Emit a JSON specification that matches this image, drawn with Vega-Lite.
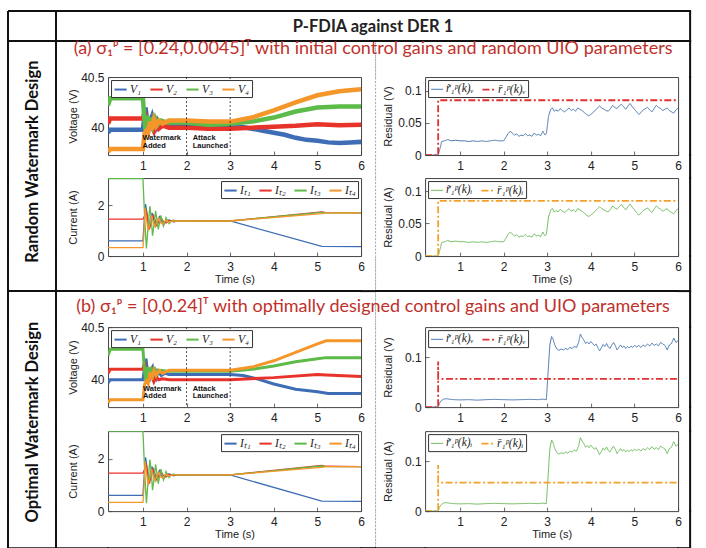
{
"$schema": "https://vega.github.io/schema/vega-lite/v6.json",
"padding": {"left": 7, "top": 4, "right": 0, "bottom": 0},
"config": {
  "concat": {"spacing": 0.01},
  "view": {"stroke": "#444", "strokeWidth": 1},
  "font": "Liberation Sans",
  "axis": {"labelFont": "Liberation Sans", "labelFontSize": 12, "labelColor": "#222", "titleFont": "Liberation Sans", "titleFontSize": 11, "titleFontWeight": "normal", "titleColor": "#222", "domain": false, "grid": false, "tickSize": -4, "tickColor": "#444", "tickWidth": 0.8, "labelFlush": false, "labelOverlap": false},
  "axisX": {"labelPadding": 9, "minExtent": 15, "maxExtent": 15, "titlePadding": 2},
  "axisY": {"labelPadding": 8, "minExtent": 28, "maxExtent": 28, "titlePadding": 2},
  "legend": {"direction": "horizontal", "title": null, "symbolType": "stroke", "symbolSize": 150, "symbolStrokeWidth": 2, "labelFont": "Liberation Serif", "labelFontStyle": "italic", "labelFontSize": 11.5, "labelOffset": 2, "columnPadding": 4, "padding": 2, "strokeColor": "#333", "fillColor": "white", "offset": 3, "labelColor": "#222"}
},
"datasets": {
  "vA": [
    {"s":"V₁","t":0.2,"v":39.95},{"s":"V₁","t":0.25,"v":39.98},{"s":"V₁","t":1.0,"v":39.98},{"s":"V₁","t":1.03,"v":40.1},{"s":"V₁","t":1.06,"v":40.2},{"s":"V₁","t":1.1,"v":40.05},{"s":"V₁","t":1.13,"v":39.97},{"s":"V₁","t":1.17,"v":40.06},{"s":"V₁","t":1.21,"v":40.11},{"s":"V₁","t":1.25,"v":40.04},{"s":"V₁","t":1.29,"v":40.0},{"s":"V₁","t":1.34,"v":40.07},{"s":"V₁","t":1.4,"v":40.03},{"s":"V₁","t":1.47,"v":40.05},{"s":"V₁","t":1.55,"v":40.03},{"s":"V₁","t":2.0,"v":40.03},{"s":"V₁","t":2.5,"v":40.02},{"s":"V₁","t":3.0,"v":40.02},{"s":"V₁","t":3.25,"v":40.01},{"s":"V₁","t":3.5,"v":39.99},{"s":"V₁","t":3.75,"v":39.97},{"s":"V₁","t":4.0,"v":39.95},{"s":"V₁","t":4.25,"v":39.93},{"s":"V₁","t":4.5,"v":39.9},{"s":"V₁","t":4.75,"v":39.88},{"s":"V₁","t":5.0,"v":39.87},{"s":"V₁","t":5.25,"v":39.855},{"s":"V₁","t":5.5,"v":39.85},{"s":"V₁","t":5.75,"v":39.855},{"s":"V₁","t":6.0,"v":39.86},
    {"s":"V₂","t":0.2,"v":40.04},{"s":"V₂","t":0.25,"v":40.09},{"s":"V₂","t":1.0,"v":40.09},{"s":"V₂","t":1.04,"v":40.16},{"s":"V₂","t":1.08,"v":40.03},{"s":"V₂","t":1.12,"v":39.98},{"s":"V₂","t":1.16,"v":40.08},{"s":"V₂","t":1.2,"v":40.02},{"s":"V₂","t":1.25,"v":39.97},{"s":"V₂","t":1.3,"v":40.04},{"s":"V₂","t":1.36,"v":39.99},{"s":"V₂","t":1.45,"v":40.02},{"s":"V₂","t":1.6,"v":40.0},{"s":"V₂","t":2.0,"v":40.0},{"s":"V₂","t":2.5,"v":39.99},{"s":"V₂","t":3.0,"v":39.99},{"s":"V₂","t":3.5,"v":40.0},{"s":"V₂","t":4.0,"v":40.01},{"s":"V₂","t":4.5,"v":40.02},{"s":"V₂","t":5.0,"v":40.035},{"s":"V₂","t":5.5,"v":40.025},{"s":"V₂","t":6.0,"v":40.03},
    {"s":"V₃","t":0.2,"v":40.22},{"s":"V₃","t":0.25,"v":40.29},{"s":"V₃","t":1.0,"v":40.29},{"s":"V₃","t":1.03,"v":40.1},{"s":"V₃","t":1.06,"v":39.98},{"s":"V₃","t":1.1,"v":40.12},{"s":"V₃","t":1.14,"v":40.0},{"s":"V₃","t":1.18,"v":40.1},{"s":"V₃","t":1.23,"v":40.02},{"s":"V₃","t":1.28,"v":40.09},{"s":"V₃","t":1.34,"v":40.03},{"s":"V₃","t":1.42,"v":40.07},{"s":"V₃","t":1.55,"v":40.05},{"s":"V₃","t":2.0,"v":40.05},{"s":"V₃","t":2.5,"v":40.03},{"s":"V₃","t":3.0,"v":40.04},{"s":"V₃","t":3.5,"v":40.06},{"s":"V₃","t":4.0,"v":40.1},{"s":"V₃","t":4.5,"v":40.16},{"s":"V₃","t":5.0,"v":40.2},{"s":"V₃","t":5.5,"v":40.21},{"s":"V₃","t":6.0,"v":40.21},
    {"s":"V₄","t":0.2,"v":39.76},{"s":"V₄","t":0.25,"v":39.79},{"s":"V₄","t":1.0,"v":39.79},{"s":"V₄","t":1.04,"v":39.95},{"s":"V₄","t":1.08,"v":39.97},{"s":"V₄","t":1.12,"v":39.95},{"s":"V₄","t":1.16,"v":40.06},{"s":"V₄","t":1.2,"v":39.98},{"s":"V₄","t":1.25,"v":40.08},{"s":"V₄","t":1.3,"v":40.02},{"s":"V₄","t":1.37,"v":40.07},{"s":"V₄","t":1.45,"v":40.04},{"s":"V₄","t":1.6,"v":40.07},{"s":"V₄","t":2.0,"v":40.07},{"s":"V₄","t":2.5,"v":40.06},{"s":"V₄","t":3.0,"v":40.06},{"s":"V₄","t":3.5,"v":40.1},{"s":"V₄","t":4.0,"v":40.17},{"s":"V₄","t":4.5,"v":40.25},{"s":"V₄","t":5.0,"v":40.32},{"s":"V₄","t":5.5,"v":40.36},{"s":"V₄","t":6.0,"v":40.38}
  ],
  "vB": [
    {"s":"V₁","t":0.2,"v":39.97},{"s":"V₁","t":0.25,"v":40.0},{"s":"V₁","t":1.0,"v":40.0},{"s":"V₁","t":1.04,"v":40.12},{"s":"V₁","t":1.07,"v":40.2},{"s":"V₁","t":1.11,"v":40.05},{"s":"V₁","t":1.14,"v":39.98},{"s":"V₁","t":1.18,"v":40.09},{"s":"V₁","t":1.22,"v":40.12},{"s":"V₁","t":1.26,"v":40.04},{"s":"V₁","t":1.3,"v":40.01},{"s":"V₁","t":1.35,"v":40.08},{"s":"V₁","t":1.42,"v":40.04},{"s":"V₁","t":1.5,"v":40.06},{"s":"V₁","t":1.6,"v":40.05},{"s":"V₁","t":3.0,"v":40.05},{"s":"V₁","t":3.3,"v":40.04},{"s":"V₁","t":3.6,"v":40.01},{"s":"V₁","t":4.0,"v":39.96},{"s":"V₁","t":4.5,"v":39.91},{"s":"V₁","t":5.0,"v":39.885},{"s":"V₁","t":5.25,"v":39.87},{"s":"V₁","t":6.0,"v":39.87},
    {"s":"V₂","t":0.2,"v":40.06},{"s":"V₂","t":0.25,"v":40.1},{"s":"V₂","t":1.0,"v":40.1},{"s":"V₂","t":1.04,"v":40.17},{"s":"V₂","t":1.08,"v":40.04},{"s":"V₂","t":1.12,"v":39.98},{"s":"V₂","t":1.16,"v":40.07},{"s":"V₂","t":1.2,"v":40.03},{"s":"V₂","t":1.25,"v":39.98},{"s":"V₂","t":1.3,"v":40.03},{"s":"V₂","t":1.36,"v":40.0},{"s":"V₂","t":1.45,"v":40.01},{"s":"V₂","t":1.6,"v":40.0},{"s":"V₂","t":3.0,"v":40.0},{"s":"V₂","t":4.0,"v":40.02},{"s":"V₂","t":5.0,"v":40.05},{"s":"V₂","t":5.2,"v":40.045},{"s":"V₂","t":6.0,"v":40.03},
    {"s":"V₃","t":0.2,"v":40.23},{"s":"V₃","t":0.25,"v":40.29},{"s":"V₃","t":1.0,"v":40.29},{"s":"V₃","t":1.03,"v":40.12},{"s":"V₃","t":1.06,"v":39.99},{"s":"V₃","t":1.1,"v":40.12},{"s":"V₃","t":1.14,"v":40.02},{"s":"V₃","t":1.18,"v":40.12},{"s":"V₃","t":1.23,"v":40.04},{"s":"V₃","t":1.28,"v":40.1},{"s":"V₃","t":1.34,"v":40.06},{"s":"V₃","t":1.42,"v":40.09},{"s":"V₃","t":1.55,"v":40.08},{"s":"V₃","t":3.0,"v":40.08},{"s":"V₃","t":3.5,"v":40.1},{"s":"V₃","t":4.0,"v":40.13},{"s":"V₃","t":4.5,"v":40.17},{"s":"V₃","t":5.0,"v":40.2},{"s":"V₃","t":5.2,"v":40.21},{"s":"V₃","t":6.0,"v":40.21},
    {"s":"V₄","t":0.2,"v":39.78},{"s":"V₄","t":0.25,"v":39.81},{"s":"V₄","t":1.0,"v":39.81},{"s":"V₄","t":1.04,"v":39.96},{"s":"V₄","t":1.08,"v":39.99},{"s":"V₄","t":1.12,"v":39.96},{"s":"V₄","t":1.16,"v":40.07},{"s":"V₄","t":1.2,"v":40.0},{"s":"V₄","t":1.25,"v":40.09},{"s":"V₄","t":1.3,"v":40.04},{"s":"V₄","t":1.37,"v":40.09},{"s":"V₄","t":1.45,"v":40.06},{"s":"V₄","t":1.6,"v":40.09},{"s":"V₄","t":3.0,"v":40.09},{"s":"V₄","t":3.5,"v":40.12},{"s":"V₄","t":4.0,"v":40.18},{"s":"V₄","t":4.5,"v":40.26},{"s":"V₄","t":5.0,"v":40.34},{"s":"V₄","t":5.2,"v":40.37},{"s":"V₄","t":6.0,"v":40.37}
  ],
  "cur": [
    {"s":"Iₜ₁","t":0.2,"v":0.6},{"s":"Iₜ₁","t":1.0,"v":0.6},{"s":"Iₜ₁","t":1.03,"v":1.4},{"s":"Iₜ₁","t":1.06,"v":2.05},{"s":"Iₜ₁","t":1.1,"v":1.6},{"s":"Iₜ₁","t":1.13,"v":1.05},{"s":"Iₜ₁","t":1.17,"v":1.45},{"s":"Iₜ₁","t":1.21,"v":1.7},{"s":"Iₜ₁","t":1.25,"v":1.4},{"s":"Iₜ₁","t":1.29,"v":1.18},{"s":"Iₜ₁","t":1.33,"v":1.4},{"s":"Iₜ₁","t":1.38,"v":1.55},{"s":"Iₜ₁","t":1.43,"v":1.35},{"s":"Iₜ₁","t":1.48,"v":1.26},{"s":"Iₜ₁","t":1.53,"v":1.4},{"s":"Iₜ₁","t":1.6,"v":1.42},{"s":"Iₜ₁","t":1.7,"v":1.35},{"s":"Iₜ₁","t":1.8,"v":1.38},{"s":"Iₜ₁","t":3.0,"v":1.38},{"s":"Iₜ₁","t":5.1,"v":0.38},{"s":"Iₜ₁","t":6.0,"v":0.37},
    {"s":"Iₜ₂","t":0.2,"v":1.45},{"s":"Iₜ₂","t":1.0,"v":1.45},{"s":"Iₜ₂","t":1.04,"v":1.6},{"s":"Iₜ₂","t":1.08,"v":1.75},{"s":"Iₜ₂","t":1.12,"v":1.3},{"s":"Iₜ₂","t":1.15,"v":1.05},{"s":"Iₜ₂","t":1.19,"v":1.35},{"s":"Iₜ₂","t":1.24,"v":1.6},{"s":"Iₜ₂","t":1.28,"v":1.4},{"s":"Iₜ₂","t":1.32,"v":1.2},{"s":"Iₜ₂","t":1.37,"v":1.38},{"s":"Iₜ₂","t":1.42,"v":1.5},{"s":"Iₜ₂","t":1.47,"v":1.35},{"s":"Iₜ₂","t":1.53,"v":1.3},{"s":"Iₜ₂","t":1.6,"v":1.4},{"s":"Iₜ₂","t":1.7,"v":1.36},{"s":"Iₜ₂","t":1.8,"v":1.38},{"s":"Iₜ₂","t":3.0,"v":1.38},{"s":"Iₜ₂","t":5.1,"v":1.74},{"s":"Iₜ₂","t":5.2,"v":1.71},{"s":"Iₜ₂","t":6.0,"v":1.7},
    {"s":"Iₜ₃","t":0.2,"v":3.05},{"s":"Iₜ₃","t":1.0,"v":3.05},{"s":"Iₜ₃","t":1.04,"v":1.5},{"s":"Iₜ₃","t":1.08,"v":0.3},{"s":"Iₜ₃","t":1.12,"v":1.2},{"s":"Iₜ₃","t":1.16,"v":1.97},{"s":"Iₜ₃","t":1.19,"v":1.5},{"s":"Iₜ₃","t":1.22,"v":0.8},{"s":"Iₜ₃","t":1.26,"v":1.3},{"s":"Iₜ₃","t":1.29,"v":1.78},{"s":"Iₜ₃","t":1.32,"v":1.45},{"s":"Iₜ₃","t":1.35,"v":1.05},{"s":"Iₜ₃","t":1.38,"v":1.3},{"s":"Iₜ₃","t":1.41,"v":1.6},{"s":"Iₜ₃","t":1.44,"v":1.4},{"s":"Iₜ₃","t":1.47,"v":1.18},{"s":"Iₜ₃","t":1.5,"v":1.3},{"s":"Iₜ₃","t":1.53,"v":1.51},{"s":"Iₜ₃","t":1.56,"v":1.4},{"s":"Iₜ₃","t":1.6,"v":1.28},{"s":"Iₜ₃","t":1.65,"v":1.38},{"s":"Iₜ₃","t":1.7,"v":1.42},{"s":"Iₜ₃","t":1.75,"v":1.37},{"s":"Iₜ₃","t":3.0,"v":1.38},{"s":"Iₜ₃","t":5.1,"v":1.72},{"s":"Iₜ₃","t":5.2,"v":1.7},{"s":"Iₜ₃","t":6.0,"v":1.7},
    {"s":"Iₜ₄","t":0.2,"v":0.33},{"s":"Iₜ₄","t":1.0,"v":0.33},{"s":"Iₜ₄","t":1.02,"v":0.8},{"s":"Iₜ₄","t":1.05,"v":1.9},{"s":"Iₜ₄","t":1.09,"v":1.35},{"s":"Iₜ₄","t":1.12,"v":1.0},{"s":"Iₜ₄","t":1.16,"v":1.3},{"s":"Iₜ₄","t":1.2,"v":1.6},{"s":"Iₜ₄","t":1.24,"v":1.3},{"s":"Iₜ₄","t":1.28,"v":1.15},{"s":"Iₜ₄","t":1.32,"v":1.35},{"s":"Iₜ₄","t":1.36,"v":1.5},{"s":"Iₜ₄","t":1.41,"v":1.3},{"s":"Iₜ₄","t":1.46,"v":1.25},{"s":"Iₜ₄","t":1.52,"v":1.42},{"s":"Iₜ₄","t":1.6,"v":1.33},{"s":"Iₜ₄","t":1.7,"v":1.38},{"s":"Iₜ₄","t":3.0,"v":1.38},{"s":"Iₜ₄","t":5.1,"v":1.67},{"s":"Iₜ₄","t":5.2,"v":1.7},{"s":"Iₜ₄","t":6.0,"v":1.7}
  ],
  "resA": [
    {"s":"r̃₁ᵖ(k)ᵥ","t":0.2,"v":0},{"s":"r̃₁ᵖ(k)ᵥ","t":0.5,"v":0},{"s":"r̃₁ᵖ(k)ᵥ","t":0.55,"v":0.012},{"s":"r̃₁ᵖ(k)ᵥ","t":0.58,"v":0.021},{"s":"r̃₁ᵖ(k)ᵥ","t":0.65,"v":0.022},{"s":"r̃₁ᵖ(k)ᵥ","t":0.72,"v":0.024},{"s":"r̃₁ᵖ(k)ᵥ","t":0.8,"v":0.022},{"s":"r̃₁ᵖ(k)ᵥ","t":0.9,"v":0.023},{"s":"r̃₁ᵖ(k)ᵥ","t":1.0,"v":0.022},{"s":"r̃₁ᵖ(k)ᵥ","t":1.1,"v":0.022},{"s":"r̃₁ᵖ(k)ᵥ","t":1.2,"v":0.021},{"s":"r̃₁ᵖ(k)ᵥ","t":1.3,"v":0.022},{"s":"r̃₁ᵖ(k)ᵥ","t":1.4,"v":0.021},{"s":"r̃₁ᵖ(k)ᵥ","t":1.5,"v":0.022},{"s":"r̃₁ᵖ(k)ᵥ","t":1.6,"v":0.021},{"s":"r̃₁ᵖ(k)ᵥ","t":1.7,"v":0.022},{"s":"r̃₁ᵖ(k)ᵥ","t":1.8,"v":0.023},{"s":"r̃₁ᵖ(k)ᵥ","t":1.9,"v":0.022},{"s":"r̃₁ᵖ(k)ᵥ","t":2.0,"v":0.022},{"s":"r̃₁ᵖ(k)ᵥ","t":2.05,"v":0.027},{"s":"r̃₁ᵖ(k)ᵥ","t":2.1,"v":0.033},{"s":"r̃₁ᵖ(k)ᵥ","t":2.15,"v":0.037},{"s":"r̃₁ᵖ(k)ᵥ","t":2.2,"v":0.034},{"s":"r̃₁ᵖ(k)ᵥ","t":2.25,"v":0.031},{"s":"r̃₁ᵖ(k)ᵥ","t":2.3,"v":0.033},{"s":"r̃₁ᵖ(k)ᵥ","t":2.35,"v":0.029},{"s":"r̃₁ᵖ(k)ᵥ","t":2.4,"v":0.031},{"s":"r̃₁ᵖ(k)ᵥ","t":2.45,"v":0.03},{"s":"r̃₁ᵖ(k)ᵥ","t":2.5,"v":0.033},{"s":"r̃₁ᵖ(k)ᵥ","t":2.55,"v":0.03},{"s":"r̃₁ᵖ(k)ᵥ","t":2.6,"v":0.031},{"s":"r̃₁ᵖ(k)ᵥ","t":2.65,"v":0.029},{"s":"r̃₁ᵖ(k)ᵥ","t":2.7,"v":0.034},{"s":"r̃₁ᵖ(k)ᵥ","t":2.75,"v":0.031},{"s":"r̃₁ᵖ(k)ᵥ","t":2.8,"v":0.032},{"s":"r̃₁ᵖ(k)ᵥ","t":2.85,"v":0.03},{"s":"r̃₁ᵖ(k)ᵥ","t":2.9,"v":0.037},{"s":"r̃₁ᵖ(k)ᵥ","t":2.95,"v":0.031},{"s":"r̃₁ᵖ(k)ᵥ","t":2.98,"v":0.033},{"s":"r̃₁ᵖ(k)ᵥ","t":3.03,"v":0.06},{"s":"r̃₁ᵖ(k)ᵥ","t":3.08,"v":0.071},{"s":"r̃₁ᵖ(k)ᵥ","t":3.12,"v":0.073},{"s":"r̃₁ᵖ(k)ᵥ","t":3.16,"v":0.068},{"s":"r̃₁ᵖ(k)ᵥ","t":3.2,"v":0.07},{"s":"r̃₁ᵖ(k)ᵥ","t":3.25,"v":0.068},{"s":"r̃₁ᵖ(k)ᵥ","t":3.3,"v":0.072},{"s":"r̃₁ᵖ(k)ᵥ","t":3.35,"v":0.069},{"s":"r̃₁ᵖ(k)ᵥ","t":3.4,"v":0.067},{"s":"r̃₁ᵖ(k)ᵥ","t":3.45,"v":0.07},{"s":"r̃₁ᵖ(k)ᵥ","t":3.5,"v":0.073},{"s":"r̃₁ᵖ(k)ᵥ","t":3.55,"v":0.069},{"s":"r̃₁ᵖ(k)ᵥ","t":3.6,"v":0.071},{"s":"r̃₁ᵖ(k)ᵥ","t":3.65,"v":0.068},{"s":"r̃₁ᵖ(k)ᵥ","t":3.7,"v":0.073},{"s":"r̃₁ᵖ(k)ᵥ","t":3.75,"v":0.071},{"s":"r̃₁ᵖ(k)ᵥ","t":3.8,"v":0.069},{"s":"r̃₁ᵖ(k)ᵥ","t":3.85,"v":0.066},{"s":"r̃₁ᵖ(k)ᵥ","t":3.9,"v":0.063},{"s":"r̃₁ᵖ(k)ᵥ","t":3.95,"v":0.061},{"s":"r̃₁ᵖ(k)ᵥ","t":4.0,"v":0.063},{"s":"r̃₁ᵖ(k)ᵥ","t":4.05,"v":0.066},{"s":"r̃₁ᵖ(k)ᵥ","t":4.1,"v":0.069},{"s":"r̃₁ᵖ(k)ᵥ","t":4.15,"v":0.073},{"s":"r̃₁ᵖ(k)ᵥ","t":4.2,"v":0.076},{"s":"r̃₁ᵖ(k)ᵥ","t":4.25,"v":0.073},{"s":"r̃₁ᵖ(k)ᵥ","t":4.3,"v":0.071},{"s":"r̃₁ᵖ(k)ᵥ","t":4.35,"v":0.069},{"s":"r̃₁ᵖ(k)ᵥ","t":4.4,"v":0.068},{"s":"r̃₁ᵖ(k)ᵥ","t":4.45,"v":0.072},{"s":"r̃₁ᵖ(k)ᵥ","t":4.5,"v":0.077},{"s":"r̃₁ᵖ(k)ᵥ","t":4.55,"v":0.074},{"s":"r̃₁ᵖ(k)ᵥ","t":4.6,"v":0.072},{"s":"r̃₁ᵖ(k)ᵥ","t":4.65,"v":0.076},{"s":"r̃₁ᵖ(k)ᵥ","t":4.7,"v":0.079},{"s":"r̃₁ᵖ(k)ᵥ","t":4.75,"v":0.075},{"s":"r̃₁ᵖ(k)ᵥ","t":4.8,"v":0.071},{"s":"r̃₁ᵖ(k)ᵥ","t":4.85,"v":0.076},{"s":"r̃₁ᵖ(k)ᵥ","t":4.9,"v":0.08},{"s":"r̃₁ᵖ(k)ᵥ","t":4.95,"v":0.075},{"s":"r̃₁ᵖ(k)ᵥ","t":5.0,"v":0.071},{"s":"r̃₁ᵖ(k)ᵥ","t":5.05,"v":0.067},{"s":"r̃₁ᵖ(k)ᵥ","t":5.1,"v":0.063},{"s":"r̃₁ᵖ(k)ᵥ","t":5.15,"v":0.066},{"s":"r̃₁ᵖ(k)ᵥ","t":5.2,"v":0.07},{"s":"r̃₁ᵖ(k)ᵥ","t":5.25,"v":0.072},{"s":"r̃₁ᵖ(k)ᵥ","t":5.3,"v":0.074},{"s":"r̃₁ᵖ(k)ᵥ","t":5.35,"v":0.07},{"s":"r̃₁ᵖ(k)ᵥ","t":5.4,"v":0.067},{"s":"r̃₁ᵖ(k)ᵥ","t":5.45,"v":0.072},{"s":"r̃₁ᵖ(k)ᵥ","t":5.5,"v":0.077},{"s":"r̃₁ᵖ(k)ᵥ","t":5.55,"v":0.074},{"s":"r̃₁ᵖ(k)ᵥ","t":5.6,"v":0.072},{"s":"r̃₁ᵖ(k)ᵥ","t":5.65,"v":0.069},{"s":"r̃₁ᵖ(k)ᵥ","t":5.7,"v":0.071},{"s":"r̃₁ᵖ(k)ᵥ","t":5.75,"v":0.073},{"s":"r̃₁ᵖ(k)ᵥ","t":5.8,"v":0.069},{"s":"r̃₁ᵖ(k)ᵥ","t":5.85,"v":0.067},{"s":"r̃₁ᵖ(k)ᵥ","t":5.9,"v":0.065},{"s":"r̃₁ᵖ(k)ᵥ","t":5.95,"v":0.07},{"s":"r̃₁ᵖ(k)ᵥ","t":6.0,"v":0.073},
    {"s":"r̄₁ᵖ(k)ᵥ","t":0.2,"v":0},{"s":"r̄₁ᵖ(k)ᵥ","t":0.5,"v":0},{"s":"r̄₁ᵖ(k)ᵥ","t":0.5,"v":0.085},{"s":"r̄₁ᵖ(k)ᵥ","t":6.0,"v":0.085}
  ],
  "resB": [
    {"s":"r̃₁ᵖ(k)ᵥ","t":0.2,"v":0},{"s":"r̃₁ᵖ(k)ᵥ","t":0.5,"v":0},{"s":"r̃₁ᵖ(k)ᵥ","t":0.53,"v":0.008},{"s":"r̃₁ᵖ(k)ᵥ","t":0.57,"v":0.013},{"s":"r̃₁ᵖ(k)ᵥ","t":0.62,"v":0.016},{"s":"r̃₁ᵖ(k)ᵥ","t":0.68,"v":0.017},{"s":"r̃₁ᵖ(k)ᵥ","t":0.75,"v":0.016},{"s":"r̃₁ᵖ(k)ᵥ","t":0.85,"v":0.015},{"s":"r̃₁ᵖ(k)ᵥ","t":1.0,"v":0.0145},{"s":"r̃₁ᵖ(k)ᵥ","t":1.2,"v":0.015},{"s":"r̃₁ᵖ(k)ᵥ","t":1.4,"v":0.014},{"s":"r̃₁ᵖ(k)ᵥ","t":1.6,"v":0.015},{"s":"r̃₁ᵖ(k)ᵥ","t":1.8,"v":0.0155},{"s":"r̃₁ᵖ(k)ᵥ","t":2.0,"v":0.015},{"s":"r̃₁ᵖ(k)ᵥ","t":2.2,"v":0.0145},{"s":"r̃₁ᵖ(k)ᵥ","t":2.4,"v":0.015},{"s":"r̃₁ᵖ(k)ᵥ","t":2.6,"v":0.0155},{"s":"r̃₁ᵖ(k)ᵥ","t":2.8,"v":0.015},{"s":"r̃₁ᵖ(k)ᵥ","t":2.9,"v":0.016},{"s":"r̃₁ᵖ(k)ᵥ","t":2.98,"v":0.015},{"s":"r̃₁ᵖ(k)ᵥ","t":3.02,"v":0.07},{"s":"r̃₁ᵖ(k)ᵥ","t":3.06,"v":0.125},{"s":"r̃₁ᵖ(k)ᵥ","t":3.1,"v":0.142},{"s":"r̃₁ᵖ(k)ᵥ","t":3.13,"v":0.138},{"s":"r̃₁ᵖ(k)ᵥ","t":3.17,"v":0.126},{"s":"r̃₁ᵖ(k)ᵥ","t":3.22,"v":0.117},{"s":"r̃₁ᵖ(k)ᵥ","t":3.27,"v":0.114},{"s":"r̃₁ᵖ(k)ᵥ","t":3.32,"v":0.117},{"s":"r̃₁ᵖ(k)ᵥ","t":3.37,"v":0.115},{"s":"r̃₁ᵖ(k)ᵥ","t":3.42,"v":0.118},{"s":"r̃₁ᵖ(k)ᵥ","t":3.47,"v":0.116},{"s":"r̃₁ᵖ(k)ᵥ","t":3.52,"v":0.12},{"s":"r̃₁ᵖ(k)ᵥ","t":3.57,"v":0.118},{"s":"r̃₁ᵖ(k)ᵥ","t":3.62,"v":0.122},{"s":"r̃₁ᵖ(k)ᵥ","t":3.67,"v":0.12},{"s":"r̃₁ᵖ(k)ᵥ","t":3.72,"v":0.13},{"s":"r̃₁ᵖ(k)ᵥ","t":3.76,"v":0.147},{"s":"r̃₁ᵖ(k)ᵥ","t":3.8,"v":0.14},{"s":"r̃₁ᵖ(k)ᵥ","t":3.84,"v":0.135},{"s":"r̃₁ᵖ(k)ᵥ","t":3.88,"v":0.128},{"s":"r̃₁ᵖ(k)ᵥ","t":3.92,"v":0.131},{"s":"r̃₁ᵖ(k)ᵥ","t":3.96,"v":0.127},{"s":"r̃₁ᵖ(k)ᵥ","t":4.0,"v":0.132},{"s":"r̃₁ᵖ(k)ᵥ","t":4.04,"v":0.128},{"s":"r̃₁ᵖ(k)ᵥ","t":4.08,"v":0.124},{"s":"r̃₁ᵖ(k)ᵥ","t":4.12,"v":0.127},{"s":"r̃₁ᵖ(k)ᵥ","t":4.16,"v":0.12},{"s":"r̃₁ᵖ(k)ᵥ","t":4.2,"v":0.113},{"s":"r̃₁ᵖ(k)ᵥ","t":4.24,"v":0.119},{"s":"r̃₁ᵖ(k)ᵥ","t":4.28,"v":0.126},{"s":"r̃₁ᵖ(k)ᵥ","t":4.32,"v":0.122},{"s":"r̃₁ᵖ(k)ᵥ","t":4.36,"v":0.128},{"s":"r̃₁ᵖ(k)ᵥ","t":4.4,"v":0.121},{"s":"r̃₁ᵖ(k)ᵥ","t":4.44,"v":0.118},{"s":"r̃₁ᵖ(k)ᵥ","t":4.48,"v":0.125},{"s":"r̃₁ᵖ(k)ᵥ","t":4.52,"v":0.13},{"s":"r̃₁ᵖ(k)ᵥ","t":4.56,"v":0.124},{"s":"r̃₁ᵖ(k)ᵥ","t":4.6,"v":0.115},{"s":"r̃₁ᵖ(k)ᵥ","t":4.64,"v":0.12},{"s":"r̃₁ᵖ(k)ᵥ","t":4.68,"v":0.125},{"s":"r̃₁ᵖ(k)ᵥ","t":4.72,"v":0.12},{"s":"r̃₁ᵖ(k)ᵥ","t":4.76,"v":0.123},{"s":"r̃₁ᵖ(k)ᵥ","t":4.8,"v":0.118},{"s":"r̃₁ᵖ(k)ᵥ","t":4.84,"v":0.122},{"s":"r̃₁ᵖ(k)ᵥ","t":4.88,"v":0.119},{"s":"r̃₁ᵖ(k)ᵥ","t":4.92,"v":0.123},{"s":"r̃₁ᵖ(k)ᵥ","t":4.96,"v":0.12},{"s":"r̃₁ᵖ(k)ᵥ","t":5.0,"v":0.124},{"s":"r̃₁ᵖ(k)ᵥ","t":5.05,"v":0.121},{"s":"r̃₁ᵖ(k)ᵥ","t":5.1,"v":0.124},{"s":"r̃₁ᵖ(k)ᵥ","t":5.15,"v":0.12},{"s":"r̃₁ᵖ(k)ᵥ","t":5.2,"v":0.125},{"s":"r̃₁ᵖ(k)ᵥ","t":5.25,"v":0.122},{"s":"r̃₁ᵖ(k)ᵥ","t":5.3,"v":0.127},{"s":"r̃₁ᵖ(k)ᵥ","t":5.35,"v":0.123},{"s":"r̃₁ᵖ(k)ᵥ","t":5.4,"v":0.129},{"s":"r̃₁ᵖ(k)ᵥ","t":5.45,"v":0.124},{"s":"r̃₁ᵖ(k)ᵥ","t":5.5,"v":0.127},{"s":"r̃₁ᵖ(k)ᵥ","t":5.55,"v":0.123},{"s":"r̃₁ᵖ(k)ᵥ","t":5.6,"v":0.13},{"s":"r̃₁ᵖ(k)ᵥ","t":5.65,"v":0.127},{"s":"r̃₁ᵖ(k)ᵥ","t":5.7,"v":0.124},{"s":"r̃₁ᵖ(k)ᵥ","t":5.75,"v":0.115},{"s":"r̃₁ᵖ(k)ᵥ","t":5.8,"v":0.125},{"s":"r̃₁ᵖ(k)ᵥ","t":5.85,"v":0.128},{"s":"r̃₁ᵖ(k)ᵥ","t":5.9,"v":0.139},{"s":"r̃₁ᵖ(k)ᵥ","t":5.95,"v":0.13},{"s":"r̃₁ᵖ(k)ᵥ","t":6.0,"v":0.134},
    {"s":"r̄₁ᵖ(k)ᵥ","t":0.2,"v":0},{"s":"r̄₁ᵖ(k)ᵥ","t":0.5,"v":0},{"s":"r̄₁ᵖ(k)ᵥ","t":0.5,"v":0.092},{"s":"r̄₁ᵖ(k)ᵥ","t":0.5,"v":0.057},{"s":"r̄₁ᵖ(k)ᵥ","t":6.0,"v":0.057}
  ],
  "e": [{}]
},
"columns": 11,
"spacing": {"row": 0.01, "column": 0.01},
"bounds": "flush",
"align": "each",
"resolve": {"scale": {"color": "independent", "strokeDash": "independent", "strokeWidth": "independent"}},
"concat": [
  {"width":0.01,"height":0.01,"data":{"name":"e"},"mark":{"type":"text","text":""},"encoding":{},"view":{"stroke":null}},
  {"width":47,"height":0.01,"data":{"name":"e"},"mark":{"type":"text","text":""},"encoding":{},"view":{"stroke":"#111","strokeWidth":2}},
  {"width":0.01,"height":0.01,"data":{"name":"e"},"mark":{"type":"text","text":""},"encoding":{},"view":{"stroke":null}},
  {"width":51,"height":0.01,"data":{"name":"e"},"mark":{"type":"text","text":""},"encoding":{},"view":{"stroke":"#111","strokeWidth":2}},
  {"width":253,"height":0.01,"data":{"name":"e"},"mark":{"type":"text","text":""},"encoding":{},"view":{"stroke":"#111","strokeWidth":2}},
  {"width":14,"height":0.01,"data":{"name":"e"},"mark":{"type":"text","text":""},"encoding":{},"view":{"stroke":"#111","strokeWidth":2}},
  {"width":0.01,"height":0.01,"data":{"name":"e"},"mark":{"type":"text","text":""},"encoding":{},"view":{"stroke":null}},
  {"width":49,"height":0.01,"data":{"name":"e"},"mark":{"type":"text","text":""},"encoding":{},"view":{"stroke":"#111","strokeWidth":2}},
  {"width":253,"height":0.01,"data":{"name":"e"},"mark":{"type":"text","text":""},"encoding":{},"view":{"stroke":"#111","strokeWidth":2}},
  {"width":12,"height":0.01,"data":{"name":"e"},"mark":{"type":"text","text":""},"encoding":{},"view":{"stroke":"#111","strokeWidth":2}},
  {"width":0.01,"height":0.01,"data":{"name":"e"},"mark":{"type":"text","text":""},"encoding":{},"view":{"stroke":null}},

  {"width":0.01,"height":29,"data":{"name":"e"},"mark":{"type":"text","text":""},"encoding":{},"view":{"stroke":"#111","strokeWidth":2}},
  {"width":47,"height":29,"data":{"name":"e"},"mark":{"type":"text","text":""},"encoding":{},"view":{"stroke":null}},
  {"width":0.01,"height":29,"data":{"name":"e"},"mark":{"type":"text","text":""},"encoding":{},"view":{"stroke":"#111","strokeWidth":2}},
  {"width":51,"height":29,"data":{"name":"e"},"mark":{"type":"text","text":""},"encoding":{},"view":{"stroke":null}},
  {"width":253,"height":29,"data":{"name":"e"},"mark":{"type":"text","text":""},"encoding":{},"view":{"stroke":null}},
  {"width":14,"height":29,"data":{"name":"e"},"mark":{"type":"text","text":""},"encoding":{},"view":{"stroke":null}},
  {"width":0.01,"height":29,"data":{"values":[{"txt":"P-FDIA against DER 1"}]},"mark":{"type":"text","font":"Lato","fontSize":16.5,"fontWeight":"bold","color":"#222","dx":-2},"encoding":{"text":{"field":"txt"}},"view":{"stroke":null}},
  {"width":49,"height":29,"data":{"name":"e"},"mark":{"type":"text","text":""},"encoding":{},"view":{"stroke":null}},
  {"width":253,"height":29,"data":{"name":"e"},"mark":{"type":"text","text":""},"encoding":{},"view":{"stroke":null}},
  {"width":12,"height":29,"data":{"name":"e"},"mark":{"type":"text","text":""},"encoding":{},"view":{"stroke":null}},
  {"width":0.01,"height":29,"data":{"name":"e"},"mark":{"type":"text","text":""},"encoding":{},"view":{"stroke":"#111","strokeWidth":2}},

  {"width":0.01,"height":0.01,"data":{"name":"e"},"mark":{"type":"text","text":""},"encoding":{},"view":{"stroke":null}},
  {"width":47,"height":0.01,"data":{"name":"e"},"mark":{"type":"text","text":""},"encoding":{},"view":{"stroke":"#111","strokeWidth":2}},
  {"width":0.01,"height":0.01,"data":{"name":"e"},"mark":{"type":"text","text":""},"encoding":{},"view":{"stroke":null}},
  {"width":51,"height":0.01,"data":{"name":"e"},"mark":{"type":"text","text":""},"encoding":{},"view":{"stroke":"#111","strokeWidth":2}},
  {"width":253,"height":0.01,"data":{"name":"e"},"mark":{"type":"text","text":""},"encoding":{},"view":{"stroke":"#111","strokeWidth":2}},
  {"width":14,"height":0.01,"data":{"name":"e"},"mark":{"type":"text","text":""},"encoding":{},"view":{"stroke":"#111","strokeWidth":2}},
  {"width":0.01,"height":0.01,"data":{"name":"e"},"mark":{"type":"text","text":""},"encoding":{},"view":{"stroke":null}},
  {"width":49,"height":0.01,"data":{"name":"e"},"mark":{"type":"text","text":""},"encoding":{},"view":{"stroke":"#111","strokeWidth":2}},
  {"width":253,"height":0.01,"data":{"name":"e"},"mark":{"type":"text","text":""},"encoding":{},"view":{"stroke":"#111","strokeWidth":2}},
  {"width":12,"height":0.01,"data":{"name":"e"},"mark":{"type":"text","text":""},"encoding":{},"view":{"stroke":"#111","strokeWidth":2}},
  {"width":0.01,"height":0.01,"data":{"name":"e"},"mark":{"type":"text","text":""},"encoding":{},"view":{"stroke":null}},

  {"width":0.01,"height":35,"data":{"name":"e"},"mark":{"type":"text","text":""},"encoding":{},"view":{"stroke":"#111","strokeWidth":2}},
  {"width":47,"height":35,"data":{"name":"e"},"mark":{"type":"text","text":""},"encoding":{},"view":{"stroke":null}},
  {"width":0.01,"height":35,"data":{"name":"e"},"mark":{"type":"text","text":""},"encoding":{},"view":{"stroke":"#111","strokeWidth":2}},
  {"width":51,"height":35,"data":{"name":"e"},"mark":{"type":"text","text":""},"encoding":{},"view":{"stroke":null}},
  {"width":253,"height":35,"data":{"name":"e"},"mark":{"type":"text","text":""},"encoding":{},"view":{"stroke":null}},
  {"width":14,"height":35,"data":{"name":"e"},"mark":{"type":"text","text":""},"encoding":{},"view":{"stroke":null}},
  {"width":0.01,"height":35,"data":{"values":[{"txt":"(a) σ₁ᵖ = [0.24,0.0045]ᵀ with initial control gains and random UIO parameters"}]},"mark":{"type":"text","font":"Lato","fontSize":18,"color":"#C0302B","dx":-2,"dy":-10.5},"encoding":{"text":{"field":"txt"}},"view":{"stroke":"#aaa","strokeWidth":1,"strokeDash":[1.5,2]}},
  {"width":49,"height":35,"data":{"name":"e"},"mark":{"type":"text","text":""},"encoding":{},"view":{"stroke":null}},
  {"width":253,"height":35,"data":{"name":"e"},"mark":{"type":"text","text":""},"encoding":{},"view":{"stroke":null}},
  {"width":12,"height":35,"data":{"name":"e"},"mark":{"type":"text","text":""},"encoding":{},"view":{"stroke":null}},
  {"width":0.01,"height":35,"data":{"name":"e"},"mark":{"type":"text","text":""},"encoding":{},"view":{"stroke":"#111","strokeWidth":2}},

  {"width":0.01,"height":78,"data":{"name":"e"},"mark":{"type":"text","text":""},"encoding":{},"view":{"stroke":"#111","strokeWidth":2}},
  {"width":47,"height":78,"data":{"name":"e"},"mark":{"type":"text","text":""},"encoding":{},"view":{"stroke":null}},
  {"width":0.01,"height":78,"data":{"name":"e"},"mark":{"type":"text","text":""},"encoding":{},"view":{"stroke":"#111","strokeWidth":2}},
  {"width":51,"height":78,"data":{"name":"e"},"mark":{"type":"text","text":""},"encoding":{},"view":{"stroke":null}},
  {"width": 253, "height": 78, "layer": [
    {"data": {"name": "vA"}, "mark": {"type": "line", "strokeWidth": 4.5, "clip": true},
     "encoding": {
       "x": {"field": "t", "type": "quantitative", "scale": {"domain": [0.2, 6], "nice": false, "zero": false}, "axis": {"values": [1,2,3,4,5,6], "title": null}},
       "y": {"field": "v", "type": "quantitative", "scale": {"domain": [39.73, 40.5], "nice": false, "zero": false}, "axis": {"values": [40, 40.5], "format": "~g", "title": "Voltage (V)"}},
       "color": {"field": "s", "type": "nominal", "scale": {"domain": ["V₁","V₂","V₃","V₄"], "range": ["#3E6DB5","#E8332A","#5DBB4A","#F5962A"]}, "legend": {"orient": "top-left"}}
     }},
    {"data": {"values": [{"t": 2}, {"t": 3}]}, "mark": {"type": "rule", "strokeDash": [2, 2], "color": "#222", "strokeWidth": 0.8}, "encoding": {"x": {"field": "t", "type": "quantitative"}}},
    {"data": {"values": [{"t": 0.99, "v": 39.935, "txt": "Watermark\nAdded"}, {"t": 2.14, "v": 39.935, "txt": "Attack\nLaunched"}]}, "mark": {"type": "text", "align": "left", "baseline": "top", "lineBreak": "\n", "fontWeight": "bold", "fontSize": 7.5, "lineHeight": 7.5, "font": "Liberation Sans", "color": "#111"}, "encoding": {"x": {"field": "t", "type": "quantitative"}, "y": {"field": "v", "type": "quantitative"}, "text": {"field": "txt"}}}
  ]},
  {"width":14,"height":78,"data":{"name":"e"},"mark":{"type":"text","text":""},"encoding":{},"view":{"stroke":null}},
  {"width":0.01,"height":78,"data":{"name":"e"},"mark":{"type":"text","text":""},"encoding":{},"view":{"stroke":"#aaa","strokeWidth":1,"strokeDash":[1.5,2]}},
  {"width":49,"height":78,"data":{"name":"e"},"mark":{"type":"text","text":""},"encoding":{},"view":{"stroke":null}},
  {"width": 253, "height": 78, "data": {"name": "resA"}, "mark": {"type": "line", "clip": true},
   "encoding": {
     "x": {"field": "t", "type": "quantitative", "scale": {"domain": [0.2, 6], "nice": false, "zero": false}, "axis": {"values": [1,2,3,4,5,6], "title": null}},
     "y": {"field": "v", "type": "quantitative", "scale": {"domain": [0, 0.121], "nice": false}, "axis": {"values": [0, 0.05, 0.1], "format": "~g", "title": "Residual (V)", "minExtent": 30, "maxExtent": 30}},
     "color": {"field": "s", "type": "nominal", "scale": {"domain": ["r̃₁ᵖ(k)ᵥ","r̄₁ᵖ(k)ᵥ"], "range": ["#4A76B0","#E03030"]}, "legend": {"orient": "top-left", "symbolStrokeWidth": 1.5}},
     "strokeDash": {"field": "s", "type": "nominal", "scale": {"domain": ["r̃₁ᵖ(k)ᵥ","r̄₁ᵖ(k)ᵥ"], "range": [[1,0],[7,2.5,2,2.5]]}, "legend": {"orient": "top-left", "symbolStrokeWidth": 1.5}},
     "strokeWidth": {"field": "s", "type": "ordinal", "scale": {"domain": ["r̃₁ᵖ(k)ᵥ","r̄₁ᵖ(k)ᵥ"], "range": [1, 1.8]}, "legend": null},
     "order": {"value": null}
   }},
  {"width":12,"height":78,"data":{"name":"e"},"mark":{"type":"text","text":""},"encoding":{},"view":{"stroke":null}},
  {"width":0.01,"height":78,"data":{"name":"e"},"mark":{"type":"text","text":""},"encoding":{},"view":{"stroke":"#111","strokeWidth":2}},

  {"width":0.01,"height":23,"data":{"name":"e"},"mark":{"type":"text","text":""},"encoding":{},"view":{"stroke":"#111","strokeWidth":2}},
  {"width":47,"height":23,"data":{"values":[{"txt":"Random Watermark Design"}]},"mark":{"type":"text","angle":270,"font":"Lato","fontSize":16.5,"fontWeight":"bold","color":"#111","dx":5},"encoding":{"text":{"field":"txt"}},"view":{"stroke":null}},
  {"width":0.01,"height":23,"data":{"name":"e"},"mark":{"type":"text","text":""},"encoding":{},"view":{"stroke":"#111","strokeWidth":2}},
  {"width":51,"height":23,"data":{"name":"e"},"mark":{"type":"text","text":""},"encoding":{},"view":{"stroke":null}},
  {"width":253,"height":23,"data":{"name":"e"},"mark":{"type":"text","text":""},"encoding":{},"view":{"stroke":null}},
  {"width":14,"height":23,"data":{"name":"e"},"mark":{"type":"text","text":""},"encoding":{},"view":{"stroke":null}},
  {"width":0.01,"height":23,"data":{"name":"e"},"mark":{"type":"text","text":""},"encoding":{},"view":{"stroke":"#aaa","strokeWidth":1,"strokeDash":[1.5,2]}},
  {"width":49,"height":23,"data":{"name":"e"},"mark":{"type":"text","text":""},"encoding":{},"view":{"stroke":null}},
  {"width":253,"height":23,"data":{"name":"e"},"mark":{"type":"text","text":""},"encoding":{},"view":{"stroke":null}},
  {"width":12,"height":23,"data":{"name":"e"},"mark":{"type":"text","text":""},"encoding":{},"view":{"stroke":null}},
  {"width":0.01,"height":23,"data":{"name":"e"},"mark":{"type":"text","text":""},"encoding":{},"view":{"stroke":"#111","strokeWidth":2}},

  {"width":0.01,"height":78,"data":{"name":"e"},"mark":{"type":"text","text":""},"encoding":{},"view":{"stroke":"#111","strokeWidth":2}},
  {"width":47,"height":78,"data":{"name":"e"},"mark":{"type":"text","text":""},"encoding":{},"view":{"stroke":null}},
  {"width":0.01,"height":78,"data":{"name":"e"},"mark":{"type":"text","text":""},"encoding":{},"view":{"stroke":"#111","strokeWidth":2}},
  {"width":51,"height":78,"data":{"name":"e"},"mark":{"type":"text","text":""},"encoding":{},"view":{"stroke":null}},
  {"width": 253, "height": 78, "data": {"name": "cur"}, "mark": {"type": "line", "strokeWidth": 1.3, "clip": true},
   "encoding": {
     "x": {"field": "t", "type": "quantitative", "scale": {"domain": [0.2, 6], "nice": false, "zero": false}, "axis": {"values": [1,2,3,4,5,6], "title": "Time (s)"}},
     "y": {"field": "v", "type": "quantitative", "scale": {"domain": [0, 3.07], "nice": false}, "axis": {"values": [0, 2], "title": "Current (A)"}},
     "color": {"field": "s", "type": "nominal", "scale": {"domain": ["Iₜ₁","Iₜ₂","Iₜ₃","Iₜ₄"], "range": ["#3E6DB5","#E8332A","#5DBB4A","#F5962A"]}, "legend": {"orient": "top-right"}}
   }},
  {"width":14,"height":78,"data":{"name":"e"},"mark":{"type":"text","text":""},"encoding":{},"view":{"stroke":null}},
  {"width":0.01,"height":78,"data":{"name":"e"},"mark":{"type":"text","text":""},"encoding":{},"view":{"stroke":"#aaa","strokeWidth":1,"strokeDash":[1.5,2]}},
  {"width":49,"height":78,"data":{"name":"e"},"mark":{"type":"text","text":""},"encoding":{},"view":{"stroke":null}},
  {"width": 253, "height": 78, "data": {"name": "resA"}, "mark": {"type": "line", "clip": true},
   "encoding": {
     "x": {"field": "t", "type": "quantitative", "scale": {"domain": [0.2, 6], "nice": false, "zero": false}, "axis": {"values": [1,2,3,4,5,6], "title": "Time (s)"}},
     "y": {"field": "v", "type": "quantitative", "scale": {"domain": [0, 0.12], "nice": false}, "axis": {"values": [0, 0.05, 0.1], "format": "~g", "title": "Residual (A)", "minExtent": 30, "maxExtent": 30}},
     "color": {"field": "s", "type": "nominal", "scale": {"domain": ["r̃₁ᵖ(k)ᵥ","r̄₁ᵖ(k)ᵥ"], "range": ["#6DBB5A","#F5A02A"]}, "legend": {"orient": "top-left", "symbolStrokeWidth": 1.5, "labelExpr": "replace(datum.label, 'ᵥ', 'ᵢ')"}},
     "strokeDash": {"field": "s", "type": "nominal", "scale": {"domain": ["r̃₁ᵖ(k)ᵥ","r̄₁ᵖ(k)ᵥ"], "range": [[1,0],[7,2.5,2,2.5]]}, "legend": {"orient": "top-left", "symbolStrokeWidth": 1.5, "labelExpr": "replace(datum.label, 'ᵥ', 'ᵢ')"}},
     "strokeWidth": {"field": "s", "type": "ordinal", "scale": {"domain": ["r̃₁ᵖ(k)ᵥ","r̄₁ᵖ(k)ᵥ"], "range": [1, 1.8]}, "legend": null},
     "order": {"value": null}
   }},
  {"width":12,"height":78,"data":{"name":"e"},"mark":{"type":"text","text":""},"encoding":{},"view":{"stroke":null}},
  {"width":0.01,"height":78,"data":{"name":"e"},"mark":{"type":"text","text":""},"encoding":{},"view":{"stroke":"#111","strokeWidth":2}},

  {"width":0.01,"height":35,"data":{"name":"e"},"mark":{"type":"text","text":""},"encoding":{},"view":{"stroke":"#111","strokeWidth":2}},
  {"width":47,"height":35,"data":{"name":"e"},"mark":{"type":"text","text":""},"encoding":{},"view":{"stroke":null}},
  {"width":0.01,"height":35,"data":{"name":"e"},"mark":{"type":"text","text":""},"encoding":{},"view":{"stroke":"#111","strokeWidth":2}},
  {"width":51,"height":35,"data":{"name":"e"},"mark":{"type":"text","text":""},"encoding":{},"view":{"stroke":null}},
  {"width":253,"height":35,"data":{"name":"e"},"mark":{"type":"text","text":""},"encoding":{},"view":{"stroke":null}},
  {"width":14,"height":35,"data":{"name":"e"},"mark":{"type":"text","text":""},"encoding":{},"view":{"stroke":null}},
  {"width":0.01,"height":35,"data":{"name":"e"},"mark":{"type":"text","text":""},"encoding":{},"view":{"stroke":"#aaa","strokeWidth":1,"strokeDash":[1.5,2]}},
  {"width":49,"height":35,"data":{"name":"e"},"mark":{"type":"text","text":""},"encoding":{},"view":{"stroke":null}},
  {"width":253,"height":35,"data":{"name":"e"},"mark":{"type":"text","text":""},"encoding":{},"view":{"stroke":null}},
  {"width":12,"height":35,"data":{"name":"e"},"mark":{"type":"text","text":""},"encoding":{},"view":{"stroke":null}},
  {"width":0.01,"height":35,"data":{"name":"e"},"mark":{"type":"text","text":""},"encoding":{},"view":{"stroke":"#111","strokeWidth":2}},

  {"width":0.01,"height":0.01,"data":{"name":"e"},"mark":{"type":"text","text":""},"encoding":{},"view":{"stroke":null}},
  {"width":47,"height":0.01,"data":{"name":"e"},"mark":{"type":"text","text":""},"encoding":{},"view":{"stroke":"#111","strokeWidth":2}},
  {"width":0.01,"height":0.01,"data":{"name":"e"},"mark":{"type":"text","text":""},"encoding":{},"view":{"stroke":null}},
  {"width":51,"height":0.01,"data":{"name":"e"},"mark":{"type":"text","text":""},"encoding":{},"view":{"stroke":"#111","strokeWidth":2}},
  {"width":253,"height":0.01,"data":{"name":"e"},"mark":{"type":"text","text":""},"encoding":{},"view":{"stroke":"#111","strokeWidth":2}},
  {"width":14,"height":0.01,"data":{"name":"e"},"mark":{"type":"text","text":""},"encoding":{},"view":{"stroke":"#111","strokeWidth":2}},
  {"width":0.01,"height":0.01,"data":{"name":"e"},"mark":{"type":"text","text":""},"encoding":{},"view":{"stroke":null}},
  {"width":49,"height":0.01,"data":{"name":"e"},"mark":{"type":"text","text":""},"encoding":{},"view":{"stroke":"#111","strokeWidth":2}},
  {"width":253,"height":0.01,"data":{"name":"e"},"mark":{"type":"text","text":""},"encoding":{},"view":{"stroke":"#111","strokeWidth":2}},
  {"width":12,"height":0.01,"data":{"name":"e"},"mark":{"type":"text","text":""},"encoding":{},"view":{"stroke":"#111","strokeWidth":2}},
  {"width":0.01,"height":0.01,"data":{"name":"e"},"mark":{"type":"text","text":""},"encoding":{},"view":{"stroke":null}},

  {"width":0.01,"height":35,"data":{"name":"e"},"mark":{"type":"text","text":""},"encoding":{},"view":{"stroke":"#111","strokeWidth":2}},
  {"width":47,"height":35,"data":{"name":"e"},"mark":{"type":"text","text":""},"encoding":{},"view":{"stroke":null}},
  {"width":0.01,"height":35,"data":{"name":"e"},"mark":{"type":"text","text":""},"encoding":{},"view":{"stroke":"#111","strokeWidth":2}},
  {"width":51,"height":35,"data":{"name":"e"},"mark":{"type":"text","text":""},"encoding":{},"view":{"stroke":null}},
  {"width":253,"height":35,"data":{"name":"e"},"mark":{"type":"text","text":""},"encoding":{},"view":{"stroke":null}},
  {"width":14,"height":35,"data":{"name":"e"},"mark":{"type":"text","text":""},"encoding":{},"view":{"stroke":null}},
  {"width":0.01,"height":35,"data":{"values":[{"txt":"(b) σ₁ᵖ = [0,0.24]ᵀ with optimally designed control gains and UIO parameters"}]},"mark":{"type":"text","font":"Lato","fontSize":18,"color":"#C0302B","dx":-2,"dy":-2.5},"encoding":{"text":{"field":"txt"}},"view":{"stroke":"#aaa","strokeWidth":1,"strokeDash":[1.5,2]}},
  {"width":49,"height":35,"data":{"name":"e"},"mark":{"type":"text","text":""},"encoding":{},"view":{"stroke":null}},
  {"width":253,"height":35,"data":{"name":"e"},"mark":{"type":"text","text":""},"encoding":{},"view":{"stroke":null}},
  {"width":12,"height":35,"data":{"name":"e"},"mark":{"type":"text","text":""},"encoding":{},"view":{"stroke":null}},
  {"width":0.01,"height":35,"data":{"name":"e"},"mark":{"type":"text","text":""},"encoding":{},"view":{"stroke":"#111","strokeWidth":2}},

  {"width":0.01,"height":80,"data":{"name":"e"},"mark":{"type":"text","text":""},"encoding":{},"view":{"stroke":"#111","strokeWidth":2}},
  {"width":47,"height":80,"data":{"name":"e"},"mark":{"type":"text","text":""},"encoding":{},"view":{"stroke":null}},
  {"width":0.01,"height":80,"data":{"name":"e"},"mark":{"type":"text","text":""},"encoding":{},"view":{"stroke":"#111","strokeWidth":2}},
  {"width":51,"height":80,"data":{"name":"e"},"mark":{"type":"text","text":""},"encoding":{},"view":{"stroke":null}},
  {"width": 253, "height": 80, "layer": [
    {"data": {"name": "vB"}, "mark": {"type": "line", "strokeWidth": 3, "clip": true},
     "encoding": {
       "x": {"field": "t", "type": "quantitative", "scale": {"domain": [0.2, 6], "nice": false, "zero": false}, "axis": {"values": [1,2,3,4,5,6], "title": null}},
       "y": {"field": "v", "type": "quantitative", "scale": {"domain": [39.74, 40.5], "nice": false, "zero": false}, "axis": {"values": [40, 40.5], "format": "~g", "title": "Voltage (V)"}},
       "color": {"field": "s", "type": "nominal", "scale": {"domain": ["V₁","V₂","V₃","V₄"], "range": ["#3E6DB5","#E8332A","#5DBB4A","#F5962A"]}, "legend": {"orient": "top-left"}}
     }},
    {"data": {"values": [{"t": 2}, {"t": 3}]}, "mark": {"type": "rule", "strokeDash": [2, 2], "color": "#222", "strokeWidth": 0.8}, "encoding": {"x": {"field": "t", "type": "quantitative"}}},
    {"data": {"values": [{"t": 1.0, "v": 39.95, "txt": "Watermark\nAdded"}, {"t": 2.14, "v": 39.95, "txt": "Attack\nLaunched"}]}, "mark": {"type": "text", "align": "left", "baseline": "top", "lineBreak": "\n", "fontWeight": "bold", "fontSize": 7.5, "lineHeight": 7.5, "font": "Liberation Sans", "color": "#111"}, "encoding": {"x": {"field": "t", "type": "quantitative"}, "y": {"field": "v", "type": "quantitative"}, "text": {"field": "txt"}}}
  ]},
  {"width":14,"height":80,"data":{"name":"e"},"mark":{"type":"text","text":""},"encoding":{},"view":{"stroke":null}},
  {"width":0.01,"height":80,"data":{"name":"e"},"mark":{"type":"text","text":""},"encoding":{},"view":{"stroke":"#aaa","strokeWidth":1,"strokeDash":[1.5,2]}},
  {"width":49,"height":80,"data":{"name":"e"},"mark":{"type":"text","text":""},"encoding":{},"view":{"stroke":null}},
  {"width": 253, "height": 80, "data": {"name": "resB"}, "mark": {"type": "line", "clip": true},
   "encoding": {
     "x": {"field": "t", "type": "quantitative", "scale": {"domain": [0.2, 6], "nice": false, "zero": false}, "axis": {"values": [1,2,3,4,5,6], "title": null}},
     "y": {"field": "v", "type": "quantitative", "scale": {"domain": [0, 0.161], "nice": false}, "axis": {"values": [0, 0.1], "format": "~g", "title": "Residual (V)", "minExtent": 30, "maxExtent": 30}},
     "color": {"field": "s", "type": "nominal", "scale": {"domain": ["r̃₁ᵖ(k)ᵥ","r̄₁ᵖ(k)ᵥ"], "range": ["#4A76B0","#E03030"]}, "legend": {"orient": "top-left", "symbolStrokeWidth": 1.5}},
     "strokeDash": {"field": "s", "type": "nominal", "scale": {"domain": ["r̃₁ᵖ(k)ᵥ","r̄₁ᵖ(k)ᵥ"], "range": [[1,0],[7,2.5,2,2.5]]}, "legend": {"orient": "top-left", "symbolStrokeWidth": 1.5}},
     "strokeWidth": {"field": "s", "type": "ordinal", "scale": {"domain": ["r̃₁ᵖ(k)ᵥ","r̄₁ᵖ(k)ᵥ"], "range": [1, 1.8]}, "legend": null},
     "order": {"value": null}
   }},
  {"width":12,"height":80,"data":{"name":"e"},"mark":{"type":"text","text":""},"encoding":{},"view":{"stroke":null}},
  {"width":0.01,"height":80,"data":{"name":"e"},"mark":{"type":"text","text":""},"encoding":{},"view":{"stroke":"#111","strokeWidth":2}},

  {"width":0.01,"height":24,"data":{"name":"e"},"mark":{"type":"text","text":""},"encoding":{},"view":{"stroke":"#111","strokeWidth":2}},
  {"width":47,"height":24,"data":{"values":[{"txt":"Optimal Watermark Design"}]},"mark":{"type":"text","angle":270,"font":"Lato","fontSize":16.5,"fontWeight":"bold","color":"#111","dx":-3},"encoding":{"text":{"field":"txt"}},"view":{"stroke":null}},
  {"width":0.01,"height":24,"data":{"name":"e"},"mark":{"type":"text","text":""},"encoding":{},"view":{"stroke":"#111","strokeWidth":2}},
  {"width":51,"height":24,"data":{"name":"e"},"mark":{"type":"text","text":""},"encoding":{},"view":{"stroke":null}},
  {"width":253,"height":24,"data":{"name":"e"},"mark":{"type":"text","text":""},"encoding":{},"view":{"stroke":null}},
  {"width":14,"height":24,"data":{"name":"e"},"mark":{"type":"text","text":""},"encoding":{},"view":{"stroke":null}},
  {"width":0.01,"height":24,"data":{"name":"e"},"mark":{"type":"text","text":""},"encoding":{},"view":{"stroke":"#aaa","strokeWidth":1,"strokeDash":[1.5,2]}},
  {"width":49,"height":24,"data":{"name":"e"},"mark":{"type":"text","text":""},"encoding":{},"view":{"stroke":null}},
  {"width":253,"height":24,"data":{"name":"e"},"mark":{"type":"text","text":""},"encoding":{},"view":{"stroke":null}},
  {"width":12,"height":24,"data":{"name":"e"},"mark":{"type":"text","text":""},"encoding":{},"view":{"stroke":null}},
  {"width":0.01,"height":24,"data":{"name":"e"},"mark":{"type":"text","text":""},"encoding":{},"view":{"stroke":"#111","strokeWidth":2}},

  {"width":0.01,"height":80,"data":{"name":"e"},"mark":{"type":"text","text":""},"encoding":{},"view":{"stroke":"#111","strokeWidth":2}},
  {"width":47,"height":80,"data":{"name":"e"},"mark":{"type":"text","text":""},"encoding":{},"view":{"stroke":null}},
  {"width":0.01,"height":80,"data":{"name":"e"},"mark":{"type":"text","text":""},"encoding":{},"view":{"stroke":"#111","strokeWidth":2}},
  {"width":51,"height":80,"data":{"name":"e"},"mark":{"type":"text","text":""},"encoding":{},"view":{"stroke":null}},
  {"width": 253, "height": 80, "data": {"name": "cur"}, "mark": {"type": "line", "strokeWidth": 1.3, "clip": true},
   "encoding": {
     "x": {"field": "t", "type": "quantitative", "scale": {"domain": [0.2, 6], "nice": false, "zero": false}, "axis": {"values": [1,2,3,4,5,6], "title": "Time (s)"}},
     "y": {"field": "v", "type": "quantitative", "scale": {"domain": [0, 3.05], "nice": false}, "axis": {"values": [0, 2], "title": "Current (A)"}},
     "color": {"field": "s", "type": "nominal", "scale": {"domain": ["Iₜ₁","Iₜ₂","Iₜ₃","Iₜ₄"], "range": ["#3E6DB5","#E8332A","#5DBB4A","#F5962A"]}, "legend": {"orient": "top-right"}}
   }},
  {"width":14,"height":80,"data":{"name":"e"},"mark":{"type":"text","text":""},"encoding":{},"view":{"stroke":null}},
  {"width":0.01,"height":80,"data":{"name":"e"},"mark":{"type":"text","text":""},"encoding":{},"view":{"stroke":"#aaa","strokeWidth":1,"strokeDash":[1.5,2]}},
  {"width":49,"height":80,"data":{"name":"e"},"mark":{"type":"text","text":""},"encoding":{},"view":{"stroke":null}},
  {"width": 253, "height": 80, "data": {"name": "resB"}, "mark": {"type": "line", "clip": true},
   "encoding": {
     "x": {"field": "t", "type": "quantitative", "scale": {"domain": [0.2, 6], "nice": false, "zero": false}, "axis": {"values": [1,2,3,4,5,6], "title": "Time (s)"}},
     "y": {"field": "v", "type": "quantitative", "scale": {"domain": [0, 0.16], "nice": false}, "axis": {"values": [0, 0.1], "format": "~g", "title": "Residual (A)", "minExtent": 30, "maxExtent": 30}},
     "color": {"field": "s", "type": "nominal", "scale": {"domain": ["r̃₁ᵖ(k)ᵥ","r̄₁ᵖ(k)ᵥ"], "range": ["#6DBB5A","#F5A02A"]}, "legend": {"orient": "top-left", "symbolStrokeWidth": 1.5, "labelExpr": "replace(datum.label, 'ᵥ', 'ᵢ')"}},
     "strokeDash": {"field": "s", "type": "nominal", "scale": {"domain": ["r̃₁ᵖ(k)ᵥ","r̄₁ᵖ(k)ᵥ"], "range": [[1,0],[7,2.5,2,2.5]]}, "legend": {"orient": "top-left", "symbolStrokeWidth": 1.5, "labelExpr": "replace(datum.label, 'ᵥ', 'ᵢ')"}},
     "strokeWidth": {"field": "s", "type": "ordinal", "scale": {"domain": ["r̃₁ᵖ(k)ᵥ","r̄₁ᵖ(k)ᵥ"], "range": [1, 1.8]}, "legend": null},
     "order": {"value": null}
   }},
  {"width":12,"height":80,"data":{"name":"e"},"mark":{"type":"text","text":""},"encoding":{},"view":{"stroke":null}},
  {"width":0.01,"height":80,"data":{"name":"e"},"mark":{"type":"text","text":""},"encoding":{},"view":{"stroke":"#111","strokeWidth":2}},

  {"width":0.01,"height":37,"data":{"name":"e"},"mark":{"type":"text","text":""},"encoding":{},"view":{"stroke":"#111","strokeWidth":2}},
  {"width":47,"height":37,"data":{"name":"e"},"mark":{"type":"text","text":""},"encoding":{},"view":{"stroke":null}},
  {"width":0.01,"height":37,"data":{"name":"e"},"mark":{"type":"text","text":""},"encoding":{},"view":{"stroke":"#111","strokeWidth":2}},
  {"width":51,"height":37,"data":{"name":"e"},"mark":{"type":"text","text":""},"encoding":{},"view":{"stroke":null}},
  {"width":253,"height":37,"data":{"name":"e"},"mark":{"type":"text","text":""},"encoding":{},"view":{"stroke":null}},
  {"width":14,"height":37,"data":{"name":"e"},"mark":{"type":"text","text":""},"encoding":{},"view":{"stroke":null}},
  {"width":0.01,"height":37,"data":{"name":"e"},"mark":{"type":"text","text":""},"encoding":{},"view":{"stroke":"#aaa","strokeWidth":1,"strokeDash":[1.5,2]}},
  {"width":49,"height":37,"data":{"name":"e"},"mark":{"type":"text","text":""},"encoding":{},"view":{"stroke":null}},
  {"width":253,"height":37,"data":{"name":"e"},"mark":{"type":"text","text":""},"encoding":{},"view":{"stroke":null}},
  {"width":12,"height":37,"data":{"name":"e"},"mark":{"type":"text","text":""},"encoding":{},"view":{"stroke":null}},
  {"width":0.01,"height":37,"data":{"name":"e"},"mark":{"type":"text","text":""},"encoding":{},"view":{"stroke":"#111","strokeWidth":2}},

  {"width":0.01,"height":0.01,"data":{"name":"e"},"mark":{"type":"text","text":""},"encoding":{},"view":{"stroke":null}},
  {"width":47,"height":0.01,"data":{"name":"e"},"mark":{"type":"text","text":""},"encoding":{},"view":{"stroke":"#111","strokeWidth":2}},
  {"width":0.01,"height":0.01,"data":{"name":"e"},"mark":{"type":"text","text":""},"encoding":{},"view":{"stroke":null}},
  {"width":51,"height":0.01,"data":{"name":"e"},"mark":{"type":"text","text":""},"encoding":{},"view":{"stroke":"#111","strokeWidth":2}},
  {"width":253,"height":0.01,"data":{"name":"e"},"mark":{"type":"text","text":""},"encoding":{},"view":{"stroke":"#111","strokeWidth":2}},
  {"width":14,"height":0.01,"data":{"name":"e"},"mark":{"type":"text","text":""},"encoding":{},"view":{"stroke":"#111","strokeWidth":2}},
  {"width":0.01,"height":0.01,"data":{"name":"e"},"mark":{"type":"text","text":""},"encoding":{},"view":{"stroke":null}},
  {"width":49,"height":0.01,"data":{"name":"e"},"mark":{"type":"text","text":""},"encoding":{},"view":{"stroke":"#111","strokeWidth":2}},
  {"width":253,"height":0.01,"data":{"name":"e"},"mark":{"type":"text","text":""},"encoding":{},"view":{"stroke":"#111","strokeWidth":2}},
  {"width":12,"height":0.01,"data":{"name":"e"},"mark":{"type":"text","text":""},"encoding":{},"view":{"stroke":"#111","strokeWidth":2}},
  {"width":0.01,"height":0.01,"data":{"name":"e"},"mark":{"type":"text","text":""},"encoding":{},"view":{"stroke":null}}
]
}
